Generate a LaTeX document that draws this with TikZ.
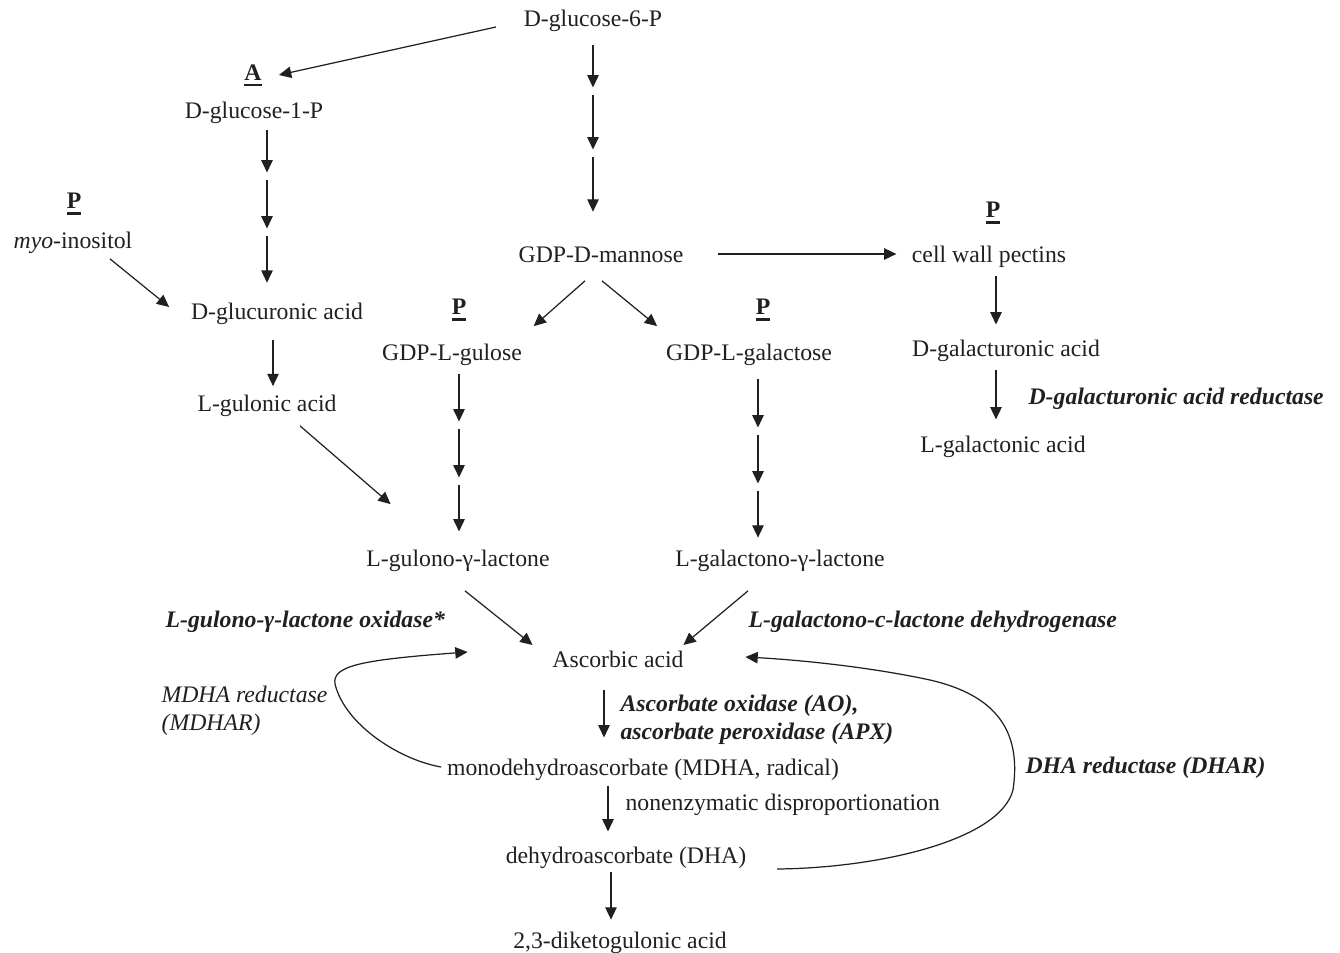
\documentclass[tikz,border=0pt]{standalone}
\usepackage{fontspec}
\setmainfont{Liberation Serif}
\usepackage{tikz}
\usetikzlibrary{arrows.meta}
\usetikzlibrary{calc}

\definecolor{ink}{HTML}{231F20}
\newcommand{\site}[1]{\setbox0=\hbox{\bfseries #1}\rlap{\copy0}\rule[-3.2pt]{\wd0}{1.2pt}}

\tikzset{
	cmpd/.style={inner sep=3pt, text height=10.9pt, text depth=1.6pt},
	tag/.style={inner sep=1pt},
	enz/.style={anchor=west, inner sep=0pt, font=\bfseries\itshape},
	note/.style={anchor=west, inner sep=0pt, align=left},
	flow/.style={->, shorten >=2pt, shorten <=2pt},
}

\begin{document}
\fontsize{13.5}{16}\selectfont
\begin{tikzpicture}[x=0.02cm, y=-0.02cm, line width=0.7pt, >={Triangle[length=7pt,width=6.5pt]}, color=ink]
		\useasboundingbox (0,0) rectangle (1340,953);

		% compounds
		\node[cmpd] (d6p) at (593,18) {D-glucose-6-P};
		\node[tag] (tagA) at (253,75) {\site{A}};
		\node[cmpd] (g1p) at (254,110) {D-glucose-1-P};
		\node[tag] (tagP1) at (74,204) {\site{P}};
		\node[cmpd] (myo) at (73,240) {\textit{myo}-inositol};
		\node[cmpd] (gluc) at (277,311) {D-glucuronic acid};
		\node[cmpd] (gul) at (267,403) {L-gulonic acid};
		\node[cmpd] (man) at (601,254) {GDP-D-mannose};
		\node[tag] (tagP4) at (993,213) {\site{P}};
		\node[cmpd] (pect) at (989,254) {cell wall pectins};
		\node[cmpd] (galU) at (1006,348) {D-galacturonic acid};
		\node[cmpd] (galO) at (1003,444) {L-galactonic acid};
		\node[tag] (tagP2) at (459,310) {\site{P}};
		\node[cmpd] (gulose) at (452,352) {GDP-L-gulose};
		\node[tag] (tagP3) at (763,310) {\site{P}};
		\node[cmpd] (galac) at (749,352) {GDP-L-galactose};
		\node[cmpd] (glac) at (458,558) {L-gulono-γ-lactone};
		\node[cmpd] (galL) at (780,558) {L-galactono-γ-lactone};
		\node[cmpd] (asc) at (618,659) {Ascorbic acid};
		\node[cmpd] (mdha) at (643,767) {monodehydroascorbate (MDHA, radical)};
		\node[cmpd] (dha) at (626,855) {dehydroascorbate (DHA)};
		\node[cmpd] (dkg) at (620,940) {2,3-diketogulonic acid};

		% enzymes
		\node[enz] (galUred) at (1028,399) {D-galacturonic acid reductase};
		\node[enz] (gulox) at (165,622) {L-gulono-γ-lactone oxidase*};
		\node[enz] (galdh) at (748,622) {L-galactono-c-lactone dehydrogenase};
		\node[enz, align=left] (aoapx) at (620,720) {Ascorbate oxidase (AO),\\ascorbate peroxidase (APX)};
		\node[note, font=\itshape] (mdhar) at (161,711) {MDHA reductase\\(MDHAR)};
		\node[enz] (dhar) at (1025,768) {DHA reductase (DHAR)};
		\node[note] (nonenz) at (625,805) {nonenzymatic disproportionation};

		% branch A
		\draw[->] ($(d6p.west)+(-22,9)$) -- ($(tagA.east)+(15,0)$);
		\coordinate (l1) at (267,176);
		\coordinate (l2) at (267,232);
		\coordinate (l3) at (273,365);
		\draw[flow] (g1p.south -| l1) -- (l1);
		\draw[flow] (l1) -- (l2);
		\draw[flow, shorten >=6.5pt] (l2) -- (l2 |- gluc.north);
		\draw[->] ($(myo.south)+(37,2)$) -- ($(gluc.west)+(-16,-4)$);
		\draw[flow, shorten <=7pt, shorten >=0pt] (gluc.south -| l3) -- (gul.north -| l3);
		\draw[->] ($(gul.south)+(33,6)$) -- ($(glac.north west)+(30,-37)$);

		% mannose branch
		\coordinate (m1) at (593,91);
		\coordinate (m2) at (593,153);
		\draw[flow, shorten <=6pt] (d6p) -- (m1);
		\draw[flow] (m1) -- (m2);
		\draw[flow, shorten >=14.5pt] (m2) -- (m2 |- man.north);
		\draw[flow, shorten <=16.5pt, shorten >=5.5pt] (man) -- (pect);
		\draw[->] ($(man.south)+(-16,10)$) -- ($(gulose.north east)+(6,-9)$);
		\draw[->] ($(man.south)+(1,10)$) -- ($(galac.north west)+(-3,-9)$);

		% pectins
		\coordinate (r1) at (996,300);
		\draw[flow, shorten <=2.7pt, shorten >=3.8pt] (pect.south -| r1) -- (galU.north -| r1);
		\draw[flow, shorten <=3.2pt, shorten >=4.4pt] (galU.south -| r1) -- (galO.north -| r1);

		% gulose
		\coordinate (u1) at (459,425);
		\coordinate (u2) at (459,481);
		\draw[flow, shorten <=2.7pt] (gulose.south -| u1) -- (u1);
		\draw[flow] (u1) -- (u2);
		\draw[flow, shorten >=5.5pt] (u2) -- (u2 |- glac.north);

		% galactose
		\coordinate (g1) at (758,431);
		\coordinate (g2) at (758,487);
		\draw[flow, shorten <=5.5pt] (galac.south -| g1) -- (g1);
		\draw[flow] (g1) -- (g2);
		\draw[flow] (g2) -- (g2 |- galL.north);

		% to ascorbic acid
		\draw[->] ($(glac.south)+(7,16)$) -- ($(asc.west)+(-14,-14)$);
		\draw[->] ($(galL.south)+(-32,16)$) -- ($(asc.east)+(-6,-14)$);

		% breakdown
		\coordinate (b1) at (604,714);
		\coordinate (b2) at (608,810);
		\coordinate (b3) at (611,896);
		\draw[flow, shorten <=8.3pt, shorten >=7.2pt] (asc.south -| b1) -- (mdha.north -| b1);
		\draw[flow, shorten <=1pt, shorten >=3.8pt] (mdha.south -| b2) -- (dha.north -| b2);
		\draw[flow, shorten <=0pt] (dha.south -| b3) -- (dkg.north -| b3);

		% recycling
		\coordinate (mdharEnd) at ($(asc.west)+(-79,-7)$);
		\draw[->] (mdha.west) .. controls (400,760) and (345,725) .. (335,684)
			.. controls (332,666) and (360,660) .. (mdharEnd);
		\coordinate (dharStart) at ($(dha.east)+(25,14)$);
		\coordinate (dharEnd) at ($(asc.east)+(56,-2)$);
		\draw[->] (dharStart) .. controls (880,868) and (1000,840) .. (1013,790)
			.. controls (1022,730) and (995,695) .. (930,680)
			.. controls (870,667) and (800,660) .. (dharEnd);
	\end{tikzpicture}
\end{document}
